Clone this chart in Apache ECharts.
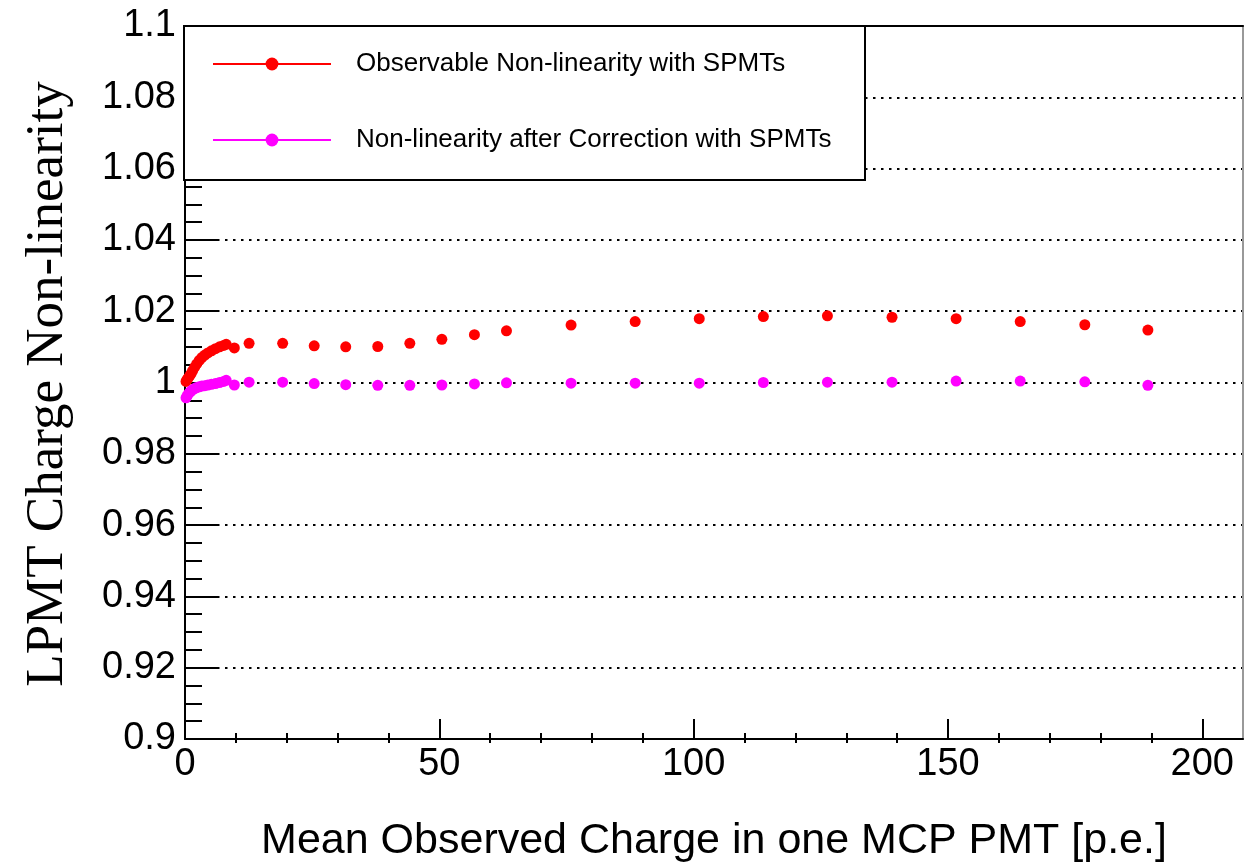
<!DOCTYPE html>
<html>
<head>
<meta charset="utf-8">
<script src="https://cdn.jsdelivr.net/npm/echarts@6/dist/echarts.min.js"></script>
<style>html,body{margin:0;padding:0;background:#fff}#c{width:1244px;height:868px}</style>
</head>
<body>
<div id="c"></div>
<script>
// Data
const xValues = [0.2, 0.4, 0.6, 0.9, 1.2, 1.5, 1.9, 2.3, 2.8, 3.3, 3.9, 4.5, 5.2, 6.0, 6.8, 7.6, 8.1, 9.7, 12.6,
  19.2, 25.4, 31.6, 37.9, 44.2, 50.5, 56.9, 63.2, 75.9, 88.5, 101.1, 113.7, 126.3, 139.0, 151.6, 164.2, 176.9, 189.3];
const observable = [1.0003, 1.0008, 1.0012, 1.0018, 1.0025, 1.0033, 1.0043, 1.0052, 1.0062, 1.0070, 1.0077, 1.0083, 1.0089, 1.0095, 1.0100, 1.0104, 1.0107, 1.0097, 1.0110,
  1.0110, 1.0103, 1.0100, 1.0101, 1.0110, 1.0121, 1.0134, 1.0145, 1.0161, 1.0171, 1.0179, 1.0185, 1.0187, 1.0183, 1.0179, 1.0171, 1.0162, 1.0147];
const corrected = [0.9957, 0.9962, 0.9967, 0.9972, 0.9976, 0.9980, 0.9983, 0.9986, 0.9988, 0.9990, 0.9991, 0.9993, 0.9995, 0.9997, 1.0000, 1.0003, 1.0006, 0.9993, 1.0001,
  1.0001, 0.9997, 0.9994, 0.9992, 0.9992, 0.9993, 0.9996, 0.9999, 0.9998, 0.9998, 0.9998, 1.0000, 1.0001, 1.0001, 1.0004, 1.0004, 1.0002, 0.9992];
const xMajorTicks = [0, 50, 100, 150, 200];
const xMinorTicks = [10, 20, 30, 40, 60, 70, 80, 90, 110, 120, 130, 140, 160, 170, 180, 190];
const seriesNames = ['Observable Non-linearity with SPMTs', 'Non-linearity after Correction with SPMTs'];
const seriesColors = ['#ff0000', '#ff00ff'];
const xTitle = 'Mean Observed Charge in one MCP PMT [p.e.]';
const yTitle = 'LPMT Charge Non-linearity';

const X_MIN = 0, X_MAX = 208, Y_MIN = 0.9, Y_MAX = 1.1, Y_STEP = 0.02;
const sans = 'Liberation Sans';

function pairs(ys) { return xValues.map((x, i) => [x, ys[i]]); }

const chart = echarts.init(document.getElementById('c'), null, {renderer: 'canvas'});
const gridPos = {left: 185, top: 26, right: 1, bottom: 125, containLabel: false};

function makeLegend(idx, top) {
  return {
    data: [seriesNames[idx]], left: 212, top: top, orient: 'vertical', padding: 0,
    itemWidth: 118, itemHeight: 16, z: 60,
    textStyle: {fontSize: 26, fontFamily: sans, color: '#000', padding: [0, 0, 0, 20]},
    lineStyle: {color: seriesColors[idx], width: 2, opacity: 1},
    itemStyle: {color: seriesColors[idx]},
    selectedMode: false
  };
}

function makeSeries(idx, ys) {
  return {
    name: seriesNames[idx], type: 'line', xAxisIndex: 0, yAxisIndex: 0,
    data: pairs(ys), symbol: 'circle', symbolSize: 11, showAllSymbol: true,
    itemStyle: {color: seriesColors[idx]},
    lineStyle: {color: seriesColors[idx], opacity: 0, width: 2},
    emphasis: {disabled: true}, z: 5
  };
}

chart.setOption({
  animation: false,
  backgroundColor: '#fff',
  grid: [Object.assign({}, gridPos), Object.assign({}, gridPos)],
  xAxis: [
    {
      type: 'value', gridIndex: 0, position: 'bottom', min: X_MIN, max: X_MAX,
      axisLine: {show: true, onZero: false, lineStyle: {color: '#000', width: 2}},
      axisTick: {show: true, inside: true, length: 20, customValues: xMajorTicks, lineStyle: {color: '#000', width: 2}},
      axisLabel: {show: true, customValues: xMajorTicks, fontSize: 38, fontFamily: sans, color: '#000', margin: 7},
      splitLine: {show: false},
      name: xTitle, nameLocation: 'middle', nameGap: 81,
      nameTextStyle: {fontSize: 43, fontFamily: sans, color: '#000'}
    },
    {
      type: 'value', gridIndex: 0, position: 'top', min: X_MIN, max: X_MAX,
      axisLine: {show: true, onZero: false, lineStyle: {color: '#000', width: 2}},
      axisTick: {show: false}, axisLabel: {show: false}, splitLine: {show: false}
    },
    {
      type: 'value', gridIndex: 1, position: 'bottom', min: X_MIN, max: X_MAX,
      axisLine: {show: false, onZero: false},
      axisTick: {show: true, inside: true, length: 10, customValues: xMinorTicks, lineStyle: {color: '#000', width: 2}},
      axisLabel: {show: false}, splitLine: {show: false}
    }
  ],
  yAxis: [
    {
      type: 'value', gridIndex: 0, position: 'left', min: Y_MIN, max: Y_MAX, interval: Y_STEP,
      axisLine: {show: true, onZero: false, lineStyle: {color: '#000', width: 2}},
      axisTick: {show: true, inside: true, length: 34, lineStyle: {color: '#000', width: 2}},
      minorTick: {show: true, splitNumber: 4, length: 17, lineStyle: {color: '#000', width: 2}},
      axisLabel: {show: true, fontSize: 38, fontFamily: sans, color: '#000', margin: 9},
      splitLine: {show: true, lineStyle: {color: '#000', width: 2, type: [2.5, 5.5]}}
    },
    {
      type: 'value', gridIndex: 0, position: 'right', min: Y_MIN, max: Y_MAX,
      axisLine: {show: true, onZero: false, lineStyle: {color: '#999', width: 2}},
      axisTick: {show: false}, axisLabel: {show: false}, splitLine: {show: false}
    },
    {
      type: 'value', gridIndex: 1, min: Y_MIN, max: Y_MAX, show: false
    }
  ],
  legend: [makeLegend(0, 51), makeLegend(1, 127)],
  graphic: [
    {
      type: 'rect', z: 50,
      shape: {x: 184, y: 26, width: 681, height: 154},
      style: {fill: '#fff', stroke: '#000', lineWidth: 2}
    },
    {
      type: 'text', z: 50, x: 48, y: 384, rotation: Math.PI / 2,
      style: {text: yTitle, fontSize: 53, fontFamily: 'Liberation Serif', fill: '#000', align: 'center', verticalAlign: 'middle'}
    }
  ],
  series: [makeSeries(0, observable), makeSeries(1, corrected)]
});
</script>
</body>
</html>
